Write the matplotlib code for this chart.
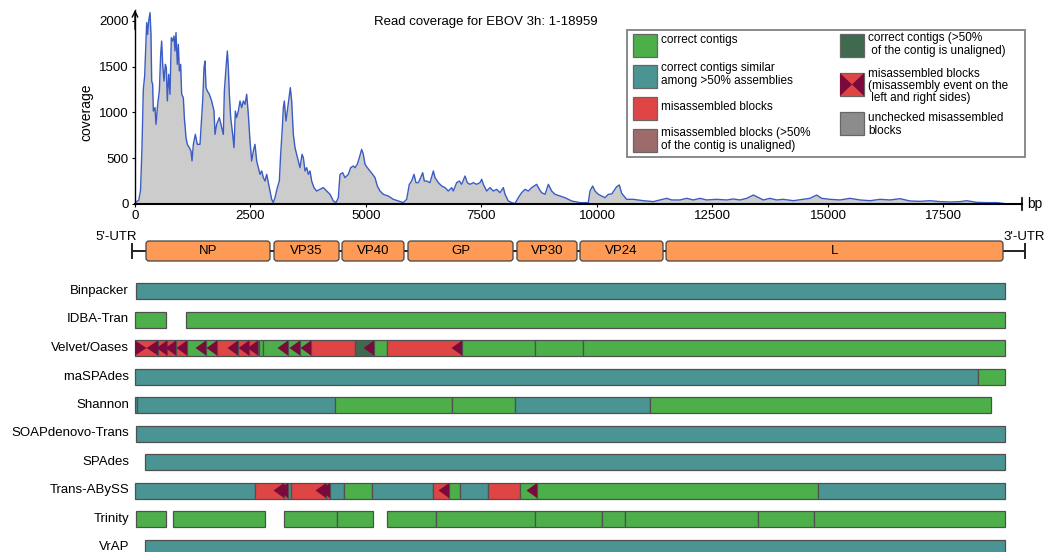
import matplotlib
matplotlib.use('Agg')
import matplotlib.pyplot as plt
from matplotlib.patches import Rectangle, Polygon, FancyBboxPatch

plt.rcParams['font.family'] = ['Liberation Sans', 'DejaVu Sans']

# ---------------- data ----------------
cov_pos = [0, 80, 120, 150, 180, 209, 253, 274, 296, 325, 346, 361, 382, 397, 433, 455, 491, 527,
           556, 577, 599, 628, 657, 678, 700, 729, 758, 786, 815, 844, 866, 887, 916, 938, 960,
           988, 1010, 1046, 1068, 1104, 1133, 1176, 1212, 1234, 1263, 1306, 1349, 1407, 1465,
           1494, 1515, 1537, 1566, 1609, 1659, 1710, 1732, 1768, 1825, 1876, 1912, 1934, 1970,
           1999, 2020, 2042, 2071, 2114, 2143, 2172, 2201, 2237, 2273, 2309, 2345, 2381, 2417,
           2453, 2489, 2525, 2561, 2597, 2634, 2670, 2706, 2742, 2778, 2814, 2850, 2908, 2958,
           2994, 3030, 3081, 3124, 3153, 3189, 3211, 3232, 3268, 3297, 3333, 3362, 3391, 3427,
           3463, 3499, 3535, 3571, 3615, 3644, 3680, 3716, 3752, 3788, 3824, 3874, 3932, 4004,
           4076, 4149, 4221, 4293, 4351, 4401, 4437, 4495, 4545, 4618, 4668, 4726, 4762, 4812,
           4856, 4906, 4942, 4978, 5029, 5087, 5144, 5195, 5245, 5303, 5375, 5483, 5592, 5700,
           5808, 5880, 5938, 5988, 6039, 6082, 6133, 6183, 6227, 6263, 6313, 6385, 6458, 6494,
           6566, 6638, 6710, 6782, 6854, 6890, 6962, 7020, 7071, 7143, 7193, 7251, 7323, 7395,
           7467, 7504, 7540, 7612, 7684, 7756, 7828, 7900, 7973, 8009, 8081, 8153, 8225, 8297,
           8369, 8442, 8514, 8586, 8694, 8752, 8802, 8875, 8947, 9019, 9091, 9199, 9307, 9452,
           9632, 9812, 9848, 9906, 9957, 10029, 10101, 10173, 10245, 10320, 10426, 10483, 10534,
           10642, 10786, 11003, 11219, 11364, 11508, 11616, 11797, 11941, 12085, 12229, 12374,
           12590, 12807, 12951, 13095, 13240, 13384, 13456, 13600, 13745, 13889, 14033, 14250,
           14466, 14610, 14755, 14863, 15043, 15260, 15476, 15693, 15909, 16126, 16342, 16558,
           16775, 16991, 17208, 17424, 17641, 17857, 18001, 18218, 18434, 18651, 18795, 18831]
cov_val = [15, 40, 150, 600, 1250, 1399, 1982, 1854, 2000, 2091, 1854, 1344, 1308, 1016, 1053, 871,
           1089, 1235, 1636, 1781, 1526, 1344, 1526, 1490, 1126, 1417, 1199, 1818, 1781, 1836,
           1672, 1873, 1526, 1745, 1454, 1526, 1199, 1162, 944, 725, 652, 616, 579, 470, 652, 761,
           652, 652, 1126, 1490, 1563, 1271, 1235, 1199, 1126, 1016, 761, 871, 944, 834, 761,
           1235, 1490, 1672, 1490, 1199, 944, 761, 616, 1016, 944, 1016, 1126, 1053, 1126, 1089,
           1199, 980, 689, 470, 579, 652, 470, 397, 324, 361, 288, 251, 324, 179, 51, 15, 69,
           179, 251, 543, 834, 1053, 1126, 907, 1016, 1162, 1271, 1126, 761, 616, 543, 470, 397,
           543, 506, 361, 397, 324, 361, 251, 179, 142, 160, 179, 142, 106, 33, 15, 69, 324, 342,
           288, 324, 397, 415, 397, 434, 506, 597, 543, 434, 397, 361, 324, 288, 197, 142, 106,
           87, 51, 33, 15, 51, 215, 251, 324, 233, 233, 288, 342, 251, 251, 233, 361, 288, 233,
           197, 179, 142, 179, 142, 233, 251, 215, 306, 233, 215, 233, 215, 233, 270, 215, 142,
           179, 142, 160, 124, 179, 106, 33, 15, 5, 69, 124, 160, 142, 179, 215, 160, 124, 106,
           215, 142, 106, 87, 69, 33, 15, 15, 142, 197, 142, 106, 87, 69, 106, 110, 189, 208, 117,
           51, 51, 36, 26, 44, 62, 44, 44, 62, 44, 62, 44, 51, 44, 55, 44, 62, 98, 80, 44, 62,
           44, 51, 36, 51, 62, 98, 62, 51, 44, 62, 44, 36, 51, 44, 58, 33, 29, 36, 26, 22, 26, 36,
           18, 15, 15, 7, 0]

x_ticks = [0, 2500, 5000, 7500, 10000, 12500, 15000, 17500]
y_ticks = [0, 500, 1000, 1500, 2000]

genes = ['NP', 'VP35', 'VP40', 'GP', 'VP30', 'VP24', 'L']
gene_start = [238, 3009, 4481, 5909, 8268, 9632, 11494]
gene_end = [2922, 4416, 5822, 8182, 9567, 11429, 18788]
genome_line = [-65, 19264]

assemblers = ['Binpacker', 'IDBA-Tran', 'Velvet/Oases', 'rnaSPAdes', 'Shannon',
              'SOAPdenovo-Trans', 'SPAdes', 'Trans-ABySS', 'Trinity', 'VrAP']

# (start bp, end bp, kind, misassembly events)
binpacker = [(22, 18831, 'similar', '')]
idba_tran = [(0, 671, 'correct', ''), (1104, 18831, 'correct', '')]
velvet_oases = [(0, 498, 'mis', 'LR'), (498, 693, 'mis', 'R'), (693, 887, 'mis', 'R'),
                (887, 1126, 'mis', 'R'), (1126, 1537, 'correct', 'R'), (1537, 1775, 'correct', 'R'),
                (1775, 2229, 'mis', 'R'), (2229, 2468, 'mis', 'R'), (2468, 2662, 'mis', 'R'),
                (2684, 2771, 'correct', ''), (2771, 3312, 'correct', 'R'), (3312, 3571, 'correct', 'R'),
                (3571, 3810, 'correct', 'R'), (3810, 4762, 'mis', ''), (4762, 5173, 'correct_un', 'R'),
                (5173, 5455, 'correct', ''), (5455, 7078, 'mis', 'R'), (7078, 8658, 'correct', ''),
                (8658, 9697, 'correct', ''), (9697, 18831, 'correct', '')]
rnaspades = [(0, 18247, 'similar', ''), (18247, 18831, 'correct', '')]
shannon = [(0, 43, 'similar', ''), (43, 4329, 'similar', ''), (4329, 6861, 'correct', ''),
           (6861, 8225, 'correct', ''), (8225, 11147, 'similar', ''), (11147, 18528, 'correct', '')]
soapdenovo_trans = [(22, 18831, 'similar', '')]
spades = [(216, 18831, 'similar', '')]
trans_abyss = [(0, 2597, 'similar', ''), (2597, 3225, 'mis', 'R'), (3225, 3312, 'mis', 'R'),
               (3312, 3377, 'similar', ''), (3377, 4134, 'mis', 'R'), (4134, 4221, 'mis', 'R'),
               (4221, 4524, 'similar', ''), (4524, 5130, 'correct', ''), (5130, 6450, 'similar', ''),
               (6450, 6797, 'mis', 'R'), (6797, 7035, 'correct', ''), (7035, 7641, 'similar', ''),
               (7641, 8333, 'mis', ''), (8333, 8701, 'correct', 'R'), (8701, 14784, 'correct', ''),
               (14784, 18831, 'similar', '')]
trinity = [(22, 671, 'correct', ''), (823, 2814, 'correct', ''), (3225, 4372, 'correct', ''),
           (4372, 5152, 'correct', ''), (5455, 6515, 'correct', ''), (6515, 8658, 'correct', ''),
           (8658, 10108, 'correct', ''), (10108, 10606, 'correct', ''), (10606, 13485, 'correct', ''),
           (13485, 14697, 'correct', ''), (14697, 18831, 'correct', '')]
vrap = [(216, 18831, 'similar', '')]
contigs = [binpacker, idba_tran, velvet_oases, rnaspades, shannon, soapdenovo_trans,
           spades, trans_abyss, trinity, vrap]

legend_left = [('correct', ['correct contigs']),
               ('similar', ['correct contigs similar', 'among >50% assemblies']),
               ('mis', ['misassembled blocks']),
               ('mis_un', ['misassembled blocks (>50%', 'of the contig is unaligned)'])]
legend_right = [('correct_un', ['correct contigs (>50%', ' of the contig is unaligned)']),
                ('mis_lr', ['misassembled blocks', '(misassembly event on the', ' left and right sides)']),
                ('unchecked', ['unchecked misassembled', 'blocks'])]

# ---------------- style ----------------
COL = {'correct': '#4caf4a', 'similar': '#4a9493', 'mis': '#e04545', 'mis_un': '#9e6b6b',
       'correct_un': '#3f6a50', 'unchecked': '#8c8c8c', 'mis_lr': '#e04545'}
MAROON = '#7a0a3c'
EDGE = '#505050'
ORANGE = '#fd9a55'
LINE_BLUE = '#3a5cc4'

W, H = 1047, 552
PX_PER_BP = 0.0462
X0 = 135
XEND_PX = 1022
XMAX_BP = (XEND_PX - X0) / PX_PER_BP

fig = plt.figure(figsize=(W / 100, H / 100), dpi=100)

# ---------------- coverage ----------------
ax = fig.add_axes([X0 / W, 1 - 204 / H, (XEND_PX - X0) / W, (204 - 10) / H])
ax.fill_between(cov_pos, cov_val, 0, color='#cccccc', lw=0)
ax.plot(cov_pos, cov_val, color=LINE_BLUE, lw=1.0)
ax.set_xlim(0, XMAX_BP)
ax.set_ylim(0, 2120)
ax.set_xticks(x_ticks)
ax.set_yticks(y_ticks)
ax.tick_params(labelsize=9.5, length=2.5, width=0.8, pad=2)
for s in ['top', 'right']:
    ax.spines[s].set_visible(False)
ax.spines['left'].set_linewidth(1.0)
ax.spines['bottom'].set_linewidth(1.5)
ax.patch.set_alpha(0)
ax.annotate('', xy=(0, 1.0), xycoords='axes fraction', xytext=(0, 0.9),
            arrowprops=dict(arrowstyle='->', lw=1.0, color='black', shrinkA=0, shrinkB=0))
ax.plot([XMAX_BP, XMAX_BP], [-70, 70], color='black', lw=1.2, clip_on=False)

fig.text(1035 / W, 1 - 204 / H, 'bp', fontsize=10, ha='center', va='center')
fig.text(86 / W, 1 - 112 / H, 'coverage', fontsize=10, rotation=90, ha='center', va='center')
fig.text(486 / W, 1 - 22 / H, 'Read coverage for EBOV 3h: 1-18959', fontsize=9.5,
         ha='center', va='center')

# ---------------- genes + contigs ----------------
ax2 = fig.add_axes([X0 / W, 0, (XEND_PX - X0) / W, (H - 222) / H])
ax2.set_xlim(0, XMAX_BP)
ax2.set_ylim(H, 222)
ax2.axis('off')

GY = 251
ax2.plot(genome_line, [GY, GY], color='#222222', lw=1.4, clip_on=False, zorder=1)
for gx in genome_line:
    ax2.plot([gx, gx], [GY - 7, GY + 7], color='#222222', lw=1.4, clip_on=False, zorder=1)
for g, s, e in zip(genes, gene_start, gene_end):
    p = FancyBboxPatch((s, GY - 10), e - s, 20,
                       boxstyle='round,pad=0,rounding_size=%f' % (3 / PX_PER_BP),
                       mutation_aspect=PX_PER_BP, facecolor=ORANGE, edgecolor='#444444',
                       lw=0.9, clip_on=False, zorder=2)
    ax2.add_patch(p)
    ax2.text((s + e) / 2, GY + 0.5, g, fontsize=9.5, ha='center', va='center', zorder=3)
fig.text(116 / W, 1 - 237 / H, "5'-UTR", fontsize=9.5, ha='center', va='center')
fig.text(1024 / W, 1 - 237 / H, "3'-UTR", fontsize=9.5, ha='center', va='center')

BAR_H = 16
TRI_W = 10.5 / PX_PER_BP
for i, (name, blocks) in enumerate(zip(assemblers, contigs)):
    yc = 291 + 28.5 * i
    fig.text(129 / W, 1 - yc / H, name, fontsize=9.5, ha='right', va='center')
    for s, e, kind, ev in blocks:
        ax2.add_patch(Rectangle((s, yc - BAR_H / 2), e - s, BAR_H, facecolor=COL[kind],
                                edgecolor=EDGE, lw=0.9, clip_on=False, zorder=2))
    for s, e, kind, ev in blocks:
        if 'R' in ev:
            w = TRI_W if ev == 'R' else (e - s) / 2
            ax2.add_patch(Polygon([(e, yc - BAR_H / 2 + 0.5), (e, yc + BAR_H / 2 - 0.5), (e - w, yc)],
                                  closed=True, facecolor=MAROON, edgecolor='none',
                                  clip_on=False, zorder=3))
        if 'L' in ev:
            w = (e - s) / 2
            ax2.add_patch(Polygon([(s, yc - BAR_H / 2 + 0.5), (s, yc + BAR_H / 2 - 0.5), (s + w, yc)],
                                  closed=True, facecolor=MAROON, edgecolor='none',
                                  clip_on=False, zorder=3))

# ---------------- legend ----------------
axL = fig.add_axes([0, 0, 1, 1])
axL.set_xlim(0, W)
axL.set_ylim(H, 0)
axL.axis('off')
axL.patch.set_alpha(0)
axL.add_patch(Rectangle((627, 30), 398, 127, facecolor='white', edgecolor='#8a8a8a', lw=1.4))

def legend_col(items, x_sq, x_txt, sq_tops, line_ys):
    for (kind, lines), top, ys in zip(items, sq_tops, line_ys):
        axL.add_patch(Rectangle((x_sq, top), 24, 23, facecolor=COL[kind], edgecolor='#666666', lw=0.9))
        if kind == 'mis_lr':
            cy = top + 11.5
            axL.add_patch(Polygon([(x_sq, top), (x_sq, top + 23), (x_sq + 12, cy)],
                                  facecolor=MAROON, edgecolor='none'))
            axL.add_patch(Polygon([(x_sq + 24, top), (x_sq + 24, top + 23), (x_sq + 12, cy)],
                                  facecolor=MAROON, edgecolor='none'))
        for t, y in zip(lines, ys):
            axL.text(x_txt, y, t, fontsize=8.5, ha='left', va='center')

legend_col(legend_left, 633, 661, [34, 64.5, 97, 129],
           [[40], [68, 81], [107], [133, 146]])
legend_col(legend_right, 840, 868, [33.5, 73, 112],
           [[38, 51], [74, 86, 98], [118, 131]])

fig.savefig('out.png', dpi=100)
